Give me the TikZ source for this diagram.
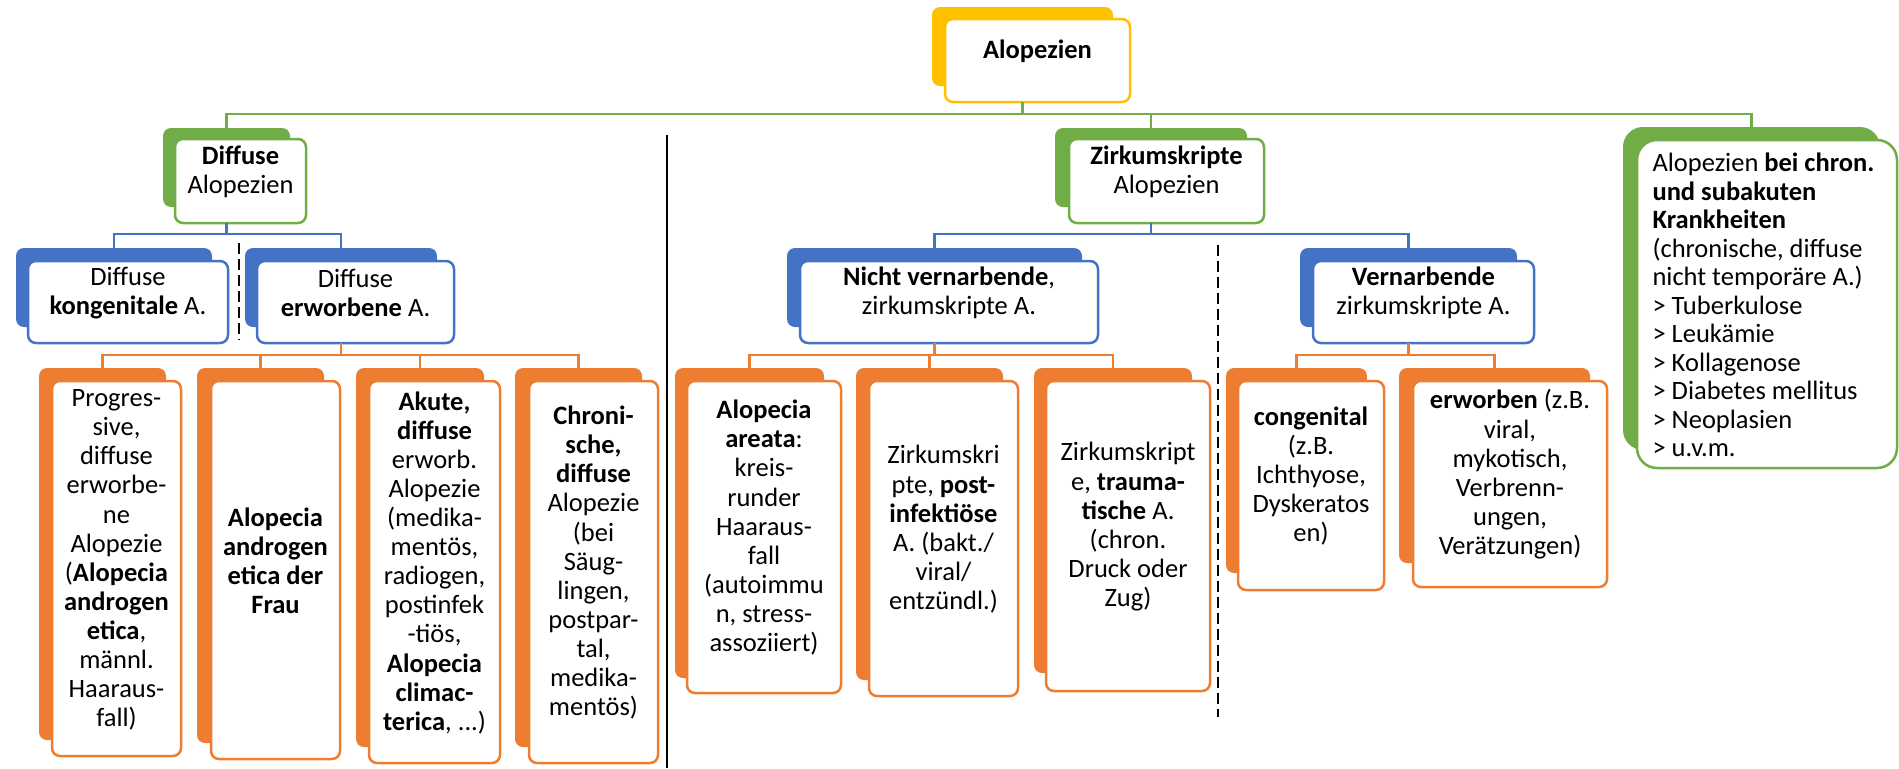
\documentclass[tikz,border=0pt]{standalone}
\usepackage{fontspec}
\setmainfont{Carlito}
\usetikzlibrary{fit}
\definecolor{cY}{HTML}{FFC000}
\definecolor{cG}{HTML}{70AD47}
\definecolor{cB}{HTML}{4472C4}
\definecolor{cO}{HTML}{ED7D31}
\newcommand\myfs{\fontsize{10.6pt}{11.64pt}\selectfont}
\newcommand\myfsr{\fontsize{10.6pt}{11.4pt}\selectfont}
\begin{document}
\begin{tikzpicture}[x=0.4pt,y=-0.4pt,
  sh/.style={fill=#1, draw=none, rounded corners=3.2pt, inner sep=0pt, outer sep=0pt},
  wb/.style={draw=#1, fill=white, line width=1pt, rounded corners=3.2pt, inner sep=0pt, outer sep=0pt, align=center, font=\myfs},
  con/.style={draw=#1, line width=1pt},
  sepline/.style={draw=black, line width=0.9pt},
  dsep/.style={draw=black, line width=1pt, dash pattern=on 4.4pt off 2pt}]
\useasboundingbox (0,0) rectangle (1899,768);

% top
\node[sh=cY, fit={(932,7)(1113,86)}] (topsh) {};
\node[wb=cY, fit={(945,19)(1130,102)}] (top) {\textbf{Alopezien}};

% level 2
\node[sh=cG, fit={(163,128)(290,207)}] (diffsh) {};
\node[wb=cG, fit={(175,139)(306,223)}] (diff) {\textbf{Diffuse}\\Alopezien};
\node[sh=cG, fit={(1055,128)(1247,207)}] (zirksh) {};
\node[wb=cG, fit={(1069,139)(1264,223)}] (zirk) {\textbf{Zirkumskripte}\\Alopezien};
\node[sh=cG, rounded corners=8pt, fit={(1623,127)(1880,450)}] (chrsh) {};
\node[wb=cG, rounded corners=8pt, fit={(1637,140)(1897,468)}] (chr) {};
\node[font=\myfsr, align=left, anchor=west, inner sep=0pt] (chrtext) at (1652,305)
 {Alopezien \textbf{bei chron.}\\\textbf{und subakuten}\\\textbf{Krankheiten}\\(chronische, diffuse\\nicht temporäre A.)\\> Tuberkulose\\> Leukämie\\> Kollagenose\\> Diabetes mellitus\\> Neoplasien\\> u.v.m.};

% level 3 (blue)
\node[sh=cB, fit={(16,248)(212,327)}] (b1sh) {};
\node[wb=cB, fit={(28,261)(228,343)}] (b1) {Diffuse\\\textbf{kongenitale} A.};
\node[sh=cB, fit={(245,248)(437,327)}] (b2sh) {};
\node[wb=cB, fit={(257,261)(454,343)}] (b2) {Diffuse\\\textbf{erworbene} A.};
\node[sh=cB, fit={(787,248)(1082,327)}] (b3sh) {};
\node[wb=cB, fit={(800,261)(1098,343)}] (b3) {\textbf{Nicht vernarbende},\\zirkumskripte A.};
\node[sh=cB, fit={(1300,248)(1517,327)}] (b4sh) {};
\node[wb=cB, fit={(1313,261)(1534,343)}] (b4) {\textbf{Vernarbende}\\zirkumskripte A.};

% level 4 (orange)
\node[sh=cO, fit={(39,368)(166,740)}] (oAsh) {};
\node[wb=cO, fit={(52,381)(181,756)}] (oA) {Progres-\\sive,\\diffuse\\erworbe-\\ne\\Alopezie\\(\textbf{Alopecia}\\\textbf{androgen}\\\textbf{etica},\\männl.\\Haaraus-\\fall)};
\node[sh=cO, fit={(197,368)(324,743)}] (oBsh) {};
\node[wb=cO, fit={(211,381)(340,759)}] (oB) {\textbf{Alopecia}\\\textbf{androgen}\\\textbf{etica der}\\\textbf{Frau}};
\node[sh=cO, fit={(356,368)(484,747)}] (oCsh) {};
\node[wb=cO, fit={(369,381)(500,763)}] (oC) {\textbf{Akute,}\\\textbf{diffuse}\\erworb.\\Alopezie\\(medika-\\mentös,\\radiogen,\\postinfek\\-tiös,\\\textbf{Alopecia}\\\textbf{climac-}\\\textbf{terica}, ...)};
\node[sh=cO, fit={(515,368)(642,747)}] (oDsh) {};
\node[wb=cO, fit={(529,381)(658,763)}] (oD) {\textbf{Chroni-}\\\textbf{sche,}\\\textbf{diffuse}\\Alopezie\\(bei\\Säug-\\lingen,\\postpar-\\tal,\\medika-\\mentös)};
\node[sh=cO, fit={(675,368)(824,678)}] (oEsh) {};
\node[wb=cO, fit={(687,381)(841,693)}] (oE) {\textbf{Alopecia}\\\textbf{areata}:\\kreis-\\runder\\Haaraus-\\fall\\(autoimmu\\n, stress-\\assoziiert)};
\node[sh=cO, fit={(856,368)(1003,680)}] (oFsh) {};
\node[wb=cO, fit={(869,381)(1018,696)}] (oF) {Zirkumskri\\pte, \textbf{post-}\\\textbf{infektiöse}\\A. (bakt./\\viral/\\entzündl.)};
\node[sh=cO, fit={(1034,368)(1192,673)}] (oGsh) {};
\node[wb=cO, fit={(1046,381)(1210,691)}] (oG) {Zirkumskript\\e, \textbf{trauma-}\\\textbf{tische} A.\\(chron.\\Druck oder\\Zug)};
\node[sh=cO, fit={(1226,368)(1367,573)}] (oHsh) {};
\node[wb=cO, fit={(1238,381)(1384,590)}] (oH) {\textbf{congenital}\\(z.B.\\Ichthyose,\\Dyskeratos\\en)};
\node[sh=cO, fit={(1399,368)(1590,563)}] (oIsh) {};
\node[wb=cO, fit={(1413,381)(1607,587)}] (oI) {\textbf{erworben} (z.B.\\viral,\\mykotisch,\\Verbrenn-\\ungen,\\Verätzungen)};

% buses
\coordinate (bus1) at (0,114);
\coordinate (bus2) at (0,234);
\coordinate (bus3) at (0,355);

% connectors
\foreach \c in {diffsh,zirksh,chrsh}
  \draw[con=cG] (topsh.center |- top.south) -- (topsh.center |- bus1) -| (\c.north);
\foreach \c in {b1sh,b2sh}
  \draw[con=cB] (diffsh.center |- diff.south) -- (diffsh.center |- bus2) -| (\c.north);
\foreach \c in {b3sh,b4sh}
  \draw[con=cB] (zirksh.center |- zirk.south) -- (zirksh.center |- bus2) -| (\c.north);
\foreach \c in {oAsh,oBsh,oCsh,oDsh}
  \draw[con=cO] (b2sh.center |- b2.south) -- (b2sh.center |- bus3) -| (\c.north);
\foreach \c in {oEsh,oFsh,oGsh}
  \draw[con=cO] (b3sh.center |- b3.south) -- (b3sh.center |- bus3) -| (\c.north);
\foreach \c in {oHsh,oIsh}
  \draw[con=cO] (b4sh.center |- b4.south) -- (b4sh.center |- bus3) -| (\c.north);

% separators
\coordinate (s1a) at (667,135);
\coordinate (s1b) at (667,768);
\draw[sepline] (s1a) -- (s1b);
\coordinate (d1a) at (239,243);
\coordinate (d1b) at (239,340);
\draw[dsep] (d1a) -- (d1b);
\coordinate (d2a) at (1218,245);
\coordinate (d2b) at (1218,717);
\draw[dsep] (d2a) -- (d2b);
\end{tikzpicture}
\end{document}
